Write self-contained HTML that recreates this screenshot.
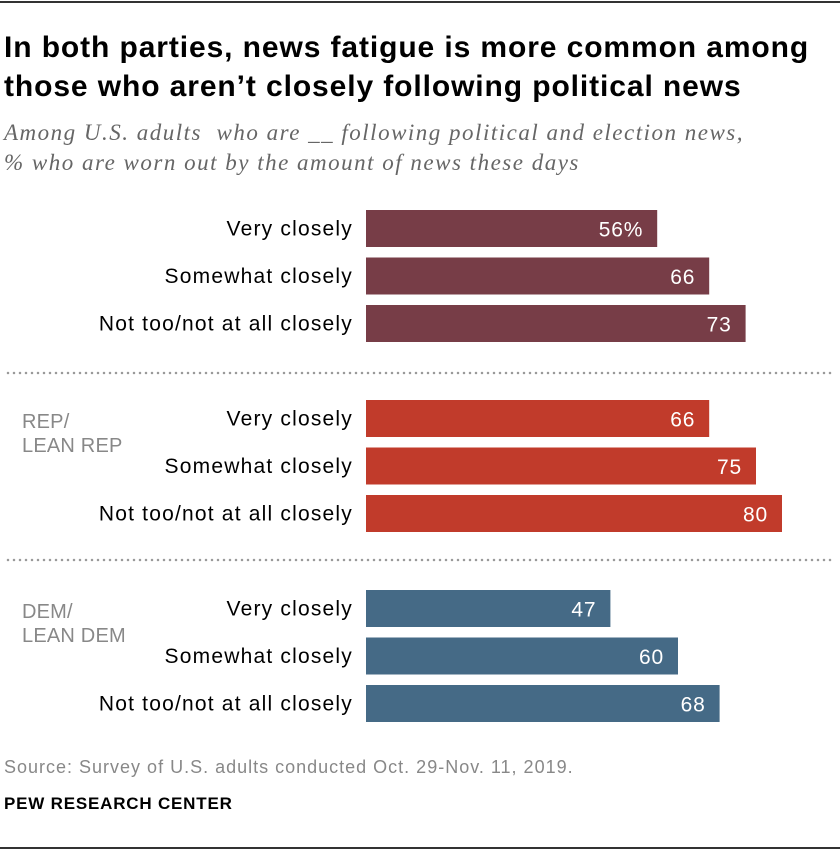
<!DOCTYPE html>
<html><head><meta charset="utf-8"><style>
body{margin:0;background:#fff;}
#wrap{position:relative;width:840px;height:852px;overflow:hidden;font-family:"Liberation Sans",sans-serif;}
.t{position:absolute;white-space:nowrap;}
</style></head><body>
<div id="wrap">
<div class="t" style="left:0;top:1px;width:840px;height:2px;background:#333"></div>
<div class="t" style="left:4px;top:28px;font-size:30px;font-weight:bold;line-height:39px;color:#000;letter-spacing:0.9px">In both parties, news fatigue is more common among<br>those who aren’t closely following political news</div>
<div class="t" style="left:4px;top:118px;font-family:'Liberation Serif',serif;font-style:italic;font-size:23px;line-height:30px;color:#666;letter-spacing:1.5px">Among U.S. adults&nbsp; who are __ following political and election news,<br>% who are worn out by the amount of news these days</div>
<svg id="svg" width="840" height="852" style="position:absolute;left:0;top:0"></svg>
<div class="t" style="left:4px;top:757px;font-size:18px;color:#888;letter-spacing:1.0px">Source: Survey of U.S. adults conducted Oct. 29-Nov. 11, 2019.</div>
<div class="t" style="left:4px;top:794px;font-size:17px;font-weight:bold;color:#000;letter-spacing:0.8px">PEW RESEARCH CENTER</div>
<div class="t" style="left:0;top:847px;width:840px;height:2px;background:#333"></div>
</div>
<script>
const categories=["Very closely","Somewhat closely","Not too/not at all closely"];
const totalValues=[56,66,73];
const repValues=[66,75,80];
const demValues=[47,60,68];
const groupNames=["","REP/|LEAN REP","DEM/|LEAN DEM"];
const svg=document.getElementById('svg');
const NS="http://www.w3.org/2000/svg";
const x0=366,scale=5.2;
function xs(v){return x0+v*scale;}
const groups=[{vals:totalValues,color:"#773d47",top:210,key:"total"},{vals:repValues,color:"#c13b2b",top:400,key:"rep"},{vals:demValues,color:"#456a86",top:590,key:"dem"}];
const rowStep=47.5,barH=37;
function mk(tag,attrs){const e=document.createElementNS(NS,tag);for(const k in attrs)e.setAttribute(k,attrs[k]);svg.appendChild(e);return e;}
groups.forEach((g,gi)=>{
  g.vals.forEach((v,i)=>{
    const y=g.top+i*rowStep;
    const r=mk('rect',{x:x0,y:y,width:xs(v)-x0,height:barH,fill:g.color});
    
    
    const t=mk('text',{x:xs(v)-14,y:y+barH/2+8,'text-anchor':'end','font-size':21,'letter-spacing':0.8,fill:'#fff','font-family':'Liberation Sans, sans-serif'});
    t.textContent=(gi===0&&i===0)?v+'%':String(v);
    
    
    const c=mk('text',{x:353,y:y+barH/2+7,'text-anchor':'end','font-size':21,'letter-spacing':1.2,fill:'#000','font-family':'Liberation Sans, sans-serif'});
    c.textContent=categories[i];
    
    
  });
  if(groupNames[gi]){
    groupNames[gi].split('|').forEach((s,k)=>{
      const t=mk('text',{x:22,y:g.top+28+k*24,'font-size':20,'letter-spacing':0.2,fill:'#888','font-family':'Liberation Sans, sans-serif'});
      t.textContent=s;
      
      
    });
  }
});
[373,560].forEach((y,i)=>{
  const l=mk('line',{x1:8,x2:832,y1:y,y2:y,stroke:'#999','stroke-width':2.5,'stroke-dasharray':'0 6','stroke-linecap':'round'});
  
  
});
</script>
</body></html>
